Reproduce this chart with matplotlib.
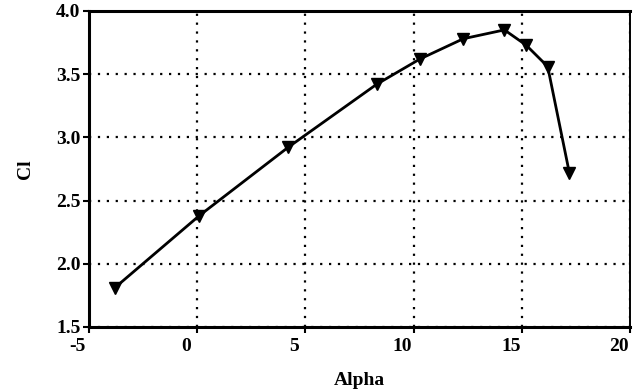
import matplotlib
matplotlib.use("Agg")
import matplotlib.pyplot as plt
from matplotlib.transforms import ScaledTranslation

alpha = [-3.8, 0.1, 4.2, 8.3, 10.3, 12.3, 14.2, 15.2, 16.2, 17.2]
cl = [1.81, 2.38, 2.92, 3.42, 3.62, 3.78, 3.85, 3.73, 3.56, 2.72]
xticks = [-5, 0, 5, 10, 15, 20]
xtick_labels = ["-5", "0", "5", "10", "15", "20"]
yticks = [1.5, 2.0, 2.5, 3.0, 3.5, 4.0]
ytick_labels = ["1.5", "2.0", "2.5", "3.0", "3.5", "4.0"]

plt.rcParams['font.family'] = ['Liberation Serif', 'DejaVu Serif']

fig = plt.figure(figsize=(6.35, 3.91), dpi=100)
ax = fig.add_axes([0.140, 0.164, 0.852, 0.808])

ax.plot(alpha, cl, color='black', lw=2.0, marker='v', markersize=8,
        markerfacecolor='black', markeredgecolor='black', zorder=3)

ax.set_xlim(-5, 20)
ax.set_ylim(1.5, 4.0)
ax.set_xticks(xticks)
ax.set_xticklabels(xtick_labels)
ax.set_yticks(yticks)
ax.set_yticklabels(ytick_labels)
ax.grid(True, color='black', linestyle=(0, (1, 3)), linewidth=1.6)

for s in ['left', 'bottom', 'top']:
    ax.spines[s].set_linewidth(2.2)
ax.spines['right'].set_linewidth(1.4)

ax.tick_params(axis='both', direction='out', length=4, width=1.5,
               labelsize=14, pad=2)
ax.tick_params(axis='x', pad=4)
shift = ScaledTranslation(-11 / 100, 0, fig.dpi_scale_trans)
for lab in ax.get_xticklabels():
    lab.set_fontweight('bold')
    lab.set_transform(lab.get_transform() + shift)
for lab in ax.get_yticklabels():
    lab.set_fontweight('bold')

ax.set_xlabel('Alpha', fontsize=14, fontweight='bold', labelpad=12)
ax.set_ylabel('Cl', fontsize=14, fontweight='bold', labelpad=16)

fig.savefig('out.png', dpi=100)
